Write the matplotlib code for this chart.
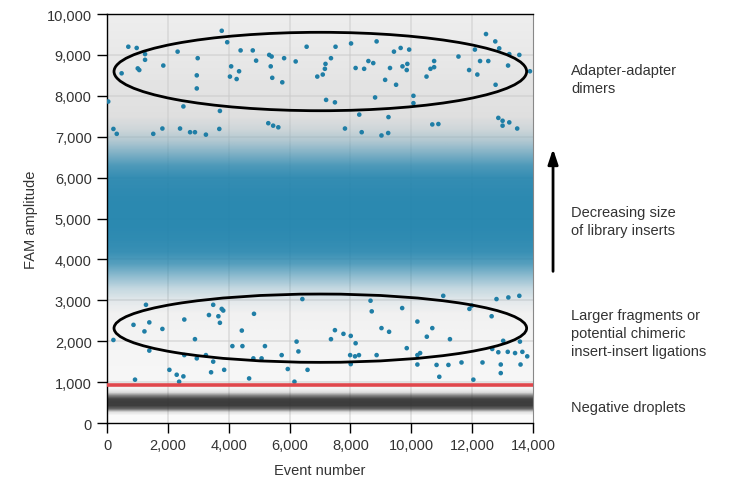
import matplotlib

matplotlib.use("Agg")
import matplotlib.colors as mcolors
import matplotlib.pyplot as plt
import numpy as np
from matplotlib.patches import Ellipse

plt.rcParams["font.family"] = ["Liberation Sans", "DejaVu Sans"]

DOT = "#1f7ea6"
TEXT = "#333333"

# sparse droplets above the main cluster (event number, FAM amplitude)
upper_events = [
    3770, 700, 975, 1250, 1250, 2320, 2980, 3950, 4390, 4790, 4900, 5330, 5410,
    5820, 6200, 6560, 480, 1010, 1060, 1850, 2950, 2950, 4080, 4340, 4040, 4260,
    5380, 5430, 5760, 6910, 40, 2510, 3710, 12455, 12760, 12890, 13220, 13550,
    7510, 8020, 8860, 9430, 9650, 9930, 7360, 7180, 7160, 7090, 8170, 8450, 8590,
    8750, 9300, 9710, 9870, 9850, 9140, 9500, 10500, 10630, 10750, 10750, 11550,
    12090, 12260, 12530, 11900, 12170, 13180, 13900, 12770, 7200, 7490, 8810,
    10070, 10070, 8290, 9250, 7820, 10690, 10890, 12860, 13000, 13220, 13480,
    13000, 8370, 9020, 9240, 210, 320, 1520, 1820, 2400, 2730, 2890, 3250, 3690,
    5300, 5460, 5630,
]
upper_amps = [
    9590, 9200, 9170, 9020, 8880, 9080, 8920, 9310, 9110, 9110, 8860, 9000, 8960,
    8920, 8840, 9200, 8550, 8670, 8630, 8740, 8500, 8180, 8720, 8600, 8470, 8410,
    8720, 8440, 8330, 8470, 7860, 7740, 7630, 9510, 9330, 9160, 9020, 9000,
    9200, 9280, 9330, 9080, 9170, 9130, 8920, 8780, 8660, 8520, 8680, 8660, 8850,
    8800, 8680, 8720, 8780, 8630, 8390, 8270, 8470, 8660, 8700, 8850, 8960,
    9130, 8850, 8850, 8630, 8520, 8740, 8600, 8270, 7900, 7840, 7960,
    8000, 7820, 7540, 7480, 7200, 7300, 7310, 7460, 7390, 7350, 7200,
    7270, 7110, 7030, 7090, 7190, 7070, 7070, 7200, 7200, 7110, 7110, 7050, 7190,
    7330, 7270, 7230,
]

# sparse droplets between the negative band and the main cluster
lower_events = [
    1280, 870, 1390, 1230, 1820, 2540, 3490, 3770, 3820, 3350, 3660, 3710, 4830,
    4430, 2890, 210, 1390, 2540, 2950, 3250, 3490, 4120, 4450, 5190, 4810, 5080,
    5740, 6230, 6290, 6420, 2050, 2290, 2510, 2370, 3420, 3850, 4670, 5940, 6590,
    6160, 920, 7360, 7490, 7770, 8010, 8170, 7990, 8150, 8280, 8010, 8700, 8660,
    9020, 9270, 9700, 10200, 10510, 10690, 11270, 11050, 11910, 11990, 12640,
    13020, 12860, 13170, 12660, 13570, 13410, 13650, 13810, 8860, 9850, 10200,
    10290, 10200, 10830, 11220, 11650, 12340, 12940, 12940, 13590, 10920, 12040,
    12800, 13190, 13550,
]
lower_amps = [
    2890, 2400, 2460, 2240, 2300, 2530, 2890, 2790, 2750, 2640, 2610, 2450, 2670,
    2260, 2050, 2030, 1770, 1660, 1580, 1660, 1500, 1880, 1880, 1880, 1580, 1580,
    1660, 1990, 1750, 3030, 1300, 1180, 1140, 1010, 1240, 1300, 1090, 1320, 1300,
    1010, 1060, 2050, 2270, 2180, 2130, 1950, 1660, 1630, 1660, 1440, 2730, 2990,
    2320, 2230, 2810, 2480, 2110, 2320, 2050, 3110, 2790, 2870, 2610,
    2010, 1730, 1740, 1810, 1990, 1710, 1740, 1630, 1660, 1830, 1660,
    1710, 1430, 1420, 1420, 1480, 1480, 1430, 1220, 1430, 1130, 1060,
    3030, 3070, 3110,
]

# how densely the main cluster covers the plot, every 300 amplitude units from 2700
band_amps = [2700, 3000, 3300, 3600, 3900, 4200, 4500, 4800, 5100, 5400, 5700, 6000, 6300, 6600, 6900, 7200, 7500]
band_cover = [0.0, 0.06, 0.2, 0.45, 0.72, 0.86, 0.9, 0.92, 0.92, 0.92, 0.9, 0.87, 0.74, 0.48, 0.22, 0.07, 0.0]

# negative droplets band, every 80 units from 180
neg_amps = [180, 260, 340, 420, 500, 580, 660, 740, 820, 900]
neg_cover = [0.0, 0.12, 0.75, 0.95, 0.95, 0.93, 0.6, 0.14, 0.03, 0.0]

# background shading of the original plot image, every 1000 units
bg_amps = [0, 1000, 2000, 3000, 4000, 5000, 6000, 7000, 8000, 9000, 10000]
bg_gray = [0.98, 0.965, 0.955, 0.935, 0.92, 0.9, 0.88, 0.86, 0.885, 0.91, 0.93]

y_ticks = [0, 1000, 2000, 3000, 4000, 5000, 6000, 7000, 8000, 9000, 10000]
x_ticks = [0, 2000, 4000, 6000, 8000, 10000, 12000, 14000]
threshold = 940

annotations = [
    ("Adapter-adapter\ndimers", 0.842),
    ("Decreasing size\nof library inserts", 0.494),
    ("Larger fragments or\npotential chimeric\ninsert-insert ligations", 0.220),
    ("Negative droplets", 0.039),
]


def profile_image(ax, amps, values, cmap, zorder):
    # a vertical profile, stretched across the full event range
    step = amps[1] - amps[0]
    img = np.array(values)[:, None].repeat(2, axis=1)
    ax.imshow(img, origin="lower", aspect="auto", cmap=cmap, vmin=0, vmax=1,
              interpolation="bilinear",
              extent=[0, 14000, amps[0] - step / 2, amps[-1] + step / 2], zorder=zorder)


def fade_cmap(color):
    rgb = mcolors.to_rgb(color)
    return mcolors.LinearSegmentedColormap.from_list(color, [(*rgb, 0.0), (*rgb, 1.0)])


fig = plt.figure(figsize=(7.36, 4.81), dpi=100)
ax = fig.add_axes([0.1454, 0.1185, 0.5788, 0.8503])

profile_image(ax, bg_amps, bg_gray, "gray", 0)

for x in x_ticks[1:-1]:
    ax.axvline(x, color="#c9c9c9", lw=1.3, alpha=0.5, zorder=1)
for y in y_ticks[1:-1]:
    ax.axhline(y, color="#c9c9c9", lw=1.3, alpha=0.5, zorder=1)

profile_image(ax, band_amps, band_cover, fade_cmap("#1b81ac"), 2)
profile_image(ax, neg_amps, neg_cover, fade_cmap("#333333"), 2)

ax.scatter(upper_events, upper_amps, s=11, color=DOT, edgecolors="none", zorder=3)
ax.scatter(lower_events, lower_amps, s=11, color=DOT, edgecolors="none", zorder=3)

ax.axhline(threshold, color="#e0474c", lw=2.6, zorder=4)

ax.add_patch(Ellipse((7010, 8594), 13560, 1917, fill=False, ec="black", lw=2.0, zorder=5))
ax.add_patch(Ellipse((7010, 2318), 13560, 1670, fill=False, ec="black", lw=2.0, zorder=5))

ax.set_xlim(0, 14000)
ax.set_ylim(0, 10000)
ax.set_xticks(x_ticks)
ax.set_yticks(y_ticks)
ax.set_xticklabels([f"{v:,}" for v in x_ticks])
ax.set_yticklabels([f"{v:,}" for v in y_ticks])
ax.tick_params(direction="out", length=7, width=1, colors="black", labelcolor=TEXT, labelsize=10.5, pad=4)
for side in ["left", "bottom", "top"]:
    ax.spines[side].set_color("black")
    ax.spines[side].set_linewidth(1.0)
ax.spines["right"].set_color("#888888")
ax.spines["right"].set_linewidth(0.8)

ax.set_xlabel("Event number", fontsize=10.5, color=TEXT, labelpad=8)
ax.set_ylabel("FAM amplitude", fontsize=10.5, color=TEXT, labelpad=6)

for label, yfrac in annotations:
    ax.text(1.089, yfrac, label, transform=ax.transAxes, ha="left", va="center",
            fontsize=10.5, color=TEXT, linespacing=1.35)

ax.annotate("", xy=(1.047, 0.677), xytext=(1.047, 0.364), xycoords="axes fraction",
            arrowprops=dict(arrowstyle="-|>,head_length=0.9,head_width=0.3", color="black", lw=2.0))

fig.savefig("out.png", dpi=100)
